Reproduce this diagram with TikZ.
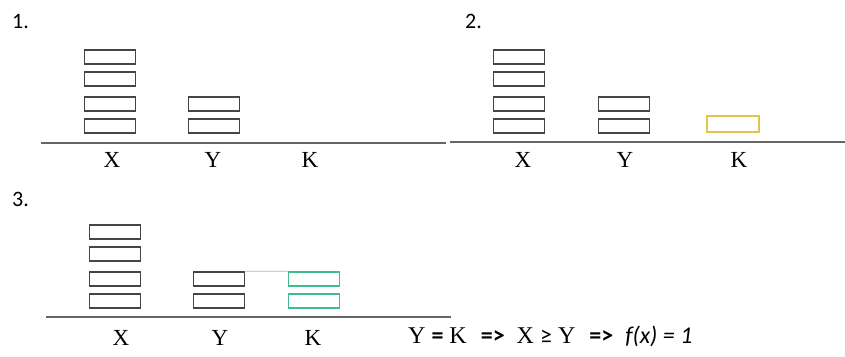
\documentclass[tikz,border=0pt]{standalone}
\usepackage{fontspec}
\setmainfont{Liberation Serif}
\newfontfamily\calib{Carlito}
\definecolor{boxgray}{HTML}{454545}
\definecolor{boxyel}{HTML}{E6C34A}
\definecolor{boxgrn}{HTML}{3DBE8C}
\begin{document}
\begin{tikzpicture}[x=1pt,y=-1pt,
  blk/.style={draw=boxgray,line width=1.7pt,rectangle,minimum width=51pt,minimum height=14pt,inner sep=0pt},
  ylw/.style={draw=boxyel,line width=1.3pt,rectangle,minimum width=52pt,minimum height=16pt,inner sep=0pt},
  grn/.style={draw=boxgrn,line width=1.6pt,rectangle,minimum width=51pt,minimum height=14pt,inner sep=0pt},
  base/.style={draw=black!60,line width=2pt},
  lbl/.style={font=\fontsize{23}{27}\selectfont,inner sep=0pt},
  num/.style={font=\calib\fontsize{22}{26}\selectfont,inner sep=0pt,anchor=base west},
  ]
\useasboundingbox (0,0) rectangle (845,356);

% ---------- panel 1
\node[num] (n1) at (12,28) {1.};
\node[blk] (a1) at (110,57) {};
\node[blk] (a2) at (110,79) {};
\node[blk] (a3) at (110,104) {};
\node[blk] (a4) at (110,126) {};
\node[blk] (b1) at (214,104) {};
\node[blk] (b2) at (214,126) {};
\coordinate (l1s) at (41,143);
\coordinate (l1e) at (446,143);
\draw[base] (l1s) -- (l1e);
\node[lbl] (x1) at (112,160) {X};
\node[lbl] (y1) at (213,160) {Y};
\node[lbl] (k1) at (310,160) {K};

% ---------- panel 2
\node[num] (n2) at (465,28) {2.};
\node[blk] (c1) at (519,57) {};
\node[blk] (c2) at (519,79) {};
\node[blk] (c3) at (519,104) {};
\node[blk] (c4) at (519,126) {};
\node[blk] (d1) at (624,104) {};
\node[blk] (d2) at (624,126) {};
\node[ylw] (e1) at (733,124) {};
\coordinate (l2s) at (450,142);
\coordinate (l2e) at (845,142);
\draw[base] (l2s) -- (l2e);
\node[lbl] (x2) at (523,160) {X};
\node[lbl] (y2) at (625,160) {Y};
\node[lbl] (k2) at (739,160) {K};

% ---------- panel 3
\node[num] (n3) at (12,206) {3.};
\node[blk] (f1) at (115,232) {};
\node[blk] (f2) at (115,254) {};
\node[blk] (f3) at (115,279) {};
\node[blk] (f4) at (115,301) {};
\node[blk] (g1) at (219,279) {};
\node[blk] (g2) at (219,301) {};
\node[grn] (h1) at (314,279) {};
\node[grn] (h2) at (314,301) {};
\draw[black!30,line width=0.7pt] (g1.north east) -- (h1.north west);
\coordinate (l3s) at (46,317);
\coordinate (l3e) at (451,317);
\draw[base] (l3s) -- (l3e);
\node[lbl] (x3) at (121,338) {X};
\node[lbl] (y3) at (220,338) {Y};
\node[lbl] (k3) at (313,338) {K};
\node[lbl,anchor=base west,font=\fontsize{24}{28}\selectfont] (fm) at (408,343)
  {Y {\calib\bfseries =} K\hspace{14pt}{\calib\bfseries =>}\hspace{12pt}X {\calib ≥} Y\hspace{14pt}{\calib\bfseries =>}\hspace{12pt}{\calib\itshape f(x) = 1}};
\end{tikzpicture}
\end{document}
